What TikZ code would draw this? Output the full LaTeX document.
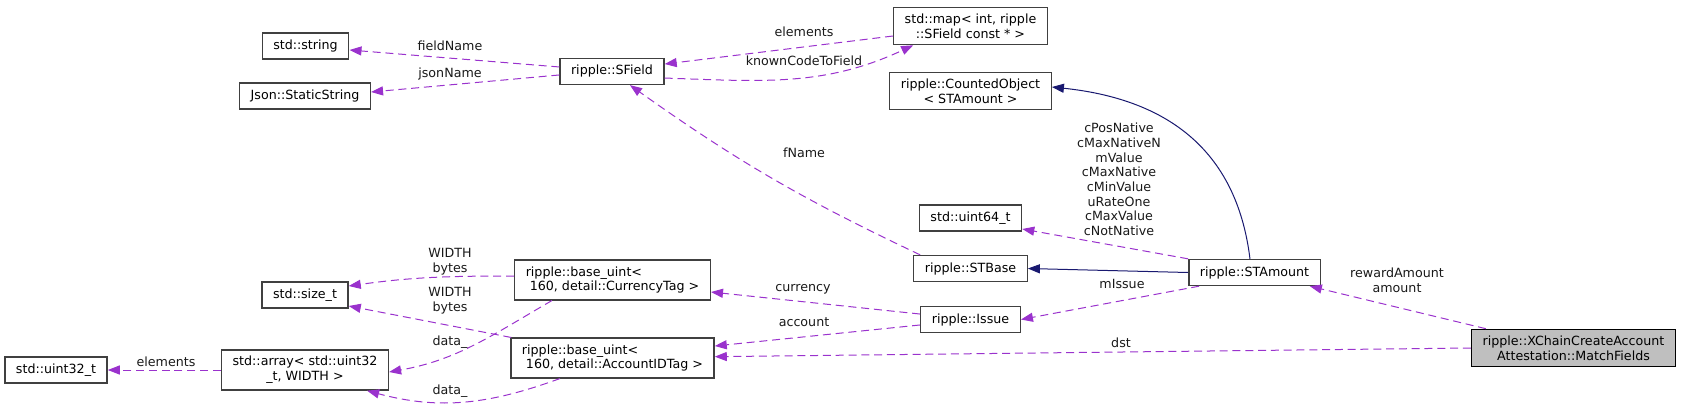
\documentclass[tikz,border=0pt]{standalone}
\usepackage{fontspec}
\setmainfont{DejaVu Sans}
\usetikzlibrary{arrows.meta}
\definecolor{dgpurple}{HTML}{9A32CD}
\definecolor{dgnavy}{HTML}{191970}
\definecolor{dgbord}{HTML}{404040}
\definecolor{dgfill}{HTML}{BFBFBF}
\newcommand{\dgfont}{\fontsize{9.5}{11}\selectfont}
\tikzset{
  cls/.style={draw=dgbord, fill=white, line width=1pt, font=\dgfont, inner xsep=8.3pt,
    inner ysep=4.8pt, minimum height=19.5pt, align=center},
  mcls/.style={cls, draw=black, fill=dgfill},
  lbl/.style={font=\dgfont, inner sep=0pt, align=center, text=black!90},
  dep/.style={-{Triangle[length=9pt,width=6.8pt]}, dgpurple, line width=0.75pt,
    dash pattern=on 6pt off 3.6pt},
  inh/.style={-{Triangle[length=9pt,width=6.8pt]}, dgnavy, line width=0.75pt},
}
\begin{document}
\begin{tikzpicture}[x=0.75pt, y=-0.75pt]
  \useasboundingbox (0,0) rectangle (1683,408);
  % classes
  \node[cls] (str) at (305.5,46) {std::string};
  \node[cls] (json) at (305,96) {Json::StaticString};
  \node[cls] (sfield) at (612,71.5) {ripple::SField};
  \node[cls] (smap) at (970.5,26) {std::map< int, ripple\\::SField const * >};
  \node[cls] (cobj) at (970.5,91) {ripple::CountedObject\\< STAmount >};
  \node[cls] (u64) at (970.5,218) {std::uint64\_t};
  \node[cls] (stbase) at (970.5,268.5) {ripple::STBase};
  \node[cls] (issue) at (970.5,319.5) {ripple::Issue};
  \node[cls] (stamount) at (1254.5,272.5) {ripple::STAmount};
  \node[mcls] (match) at (1573.5,348) {ripple::XChainCreateAccount\\Attestation::MatchFields};
  \node[cls, align=left] (cur) at (612.5,280) {ripple::base\_uint<\\\hspace*{3pt}160, detail::CurrencyTag >};
  \node[cls, align=left] (acct) at (612.5,358) {ripple::base\_uint<\\\hspace*{3pt}160, detail::AccountIDTag >};
  \node[cls] (sizet) at (305,295) {std::size\_t};
  \node[cls] (arr) at (305,370) {std::array< std::uint32\\\_t, WIDTH >};
  \node[cls] (u32) at (56,370) {std::uint32\_t};

  % edges
  \draw[dep] ([yshift=3.4pt]sfield.west) -- ([yshift=-3pt]str.east);
  \draw[dep] ([yshift=-2.6pt]sfield.west) -- ([yshift=3pt]json.east);
  \draw[dep] ([yshift=-7.5pt]smap.west) -- ([yshift=5.6pt]sfield.east);
  \draw[dep] ([yshift=-4.9pt]sfield.east) to[out=-2, in=205] ([xshift=-43pt]smap.south);
  \draw[dep] ([xshift=5.25pt]stbase.north west) to[bend left=5] ([xshift=13.5pt]sfield.south);
  \draw[inh] ([xshift=-3.4pt]stamount.north) to[out=97, in=-6, looseness=1.1] ([yshift=3pt]cobj.east);
  \draw[inh] (stamount.west) -- (stbase.east);
  \draw[dep] (stamount.north west) -- ([yshift=2pt]u64.south east);
  \draw[dep] ([xshift=8.25pt]stamount.south west) -- (issue.east);
  \draw[dep] ([yshift=4.1pt]issue.west) -- ([yshift=-9pt]cur.east);
  \draw[dep] ([yshift=-4.1pt]issue.west) -- ([yshift=9pt]acct.east);
  \draw[dep] (match.west) -- ([yshift=1pt]acct.east);
  \draw[dep] ([xshift=11.25pt]match.north west) -- ([xshift=-8.25pt]stamount.south east);
  \draw[dep] ([yshift=3pt]cur.west) to[out=180, in=8] ([yshift=6.75pt]sizet.east);
  \draw[dep] ([xshift=0.75pt]acct.north west) -- ([yshift=-8.25pt]sizet.east);
  \draw[dep] ([xshift=-45.4pt]cur.south) to[out=210, in=10] ([yshift=-1.5pt]arr.east);
  \draw[dep] ([xshift=-39.4pt]acct.south) to[out=200, in=-15] ([xshift=-16.5pt]arr.south east);
  \draw[dep] (arr.west) -- (u32.east);

  % edge labels
  \node[lbl] (lfield) at (450,46) {fieldName};
  \node[lbl] (ljson) at (450,74) {jsonName};
  \node[lbl] (lelem) at (804,32) {elements};
  \node[lbl] (lknown) at (804,61) {knownCodeToField};
  \node[lbl] (lfname) at (804,153) {fName};
  \node[lbl] (lconst) at (1119,179.5) {cPosNative\\cMaxNativeN\\mValue\\cMaxNative\\cMinValue\\uRateOne\\cMaxValue\\cNotNative};
  \node[lbl] (lissue) at (1122,284) {mIssue};
  \node[lbl] (lcur) at (803,289) {currency};
  \node[lbl] (lacct) at (804,322) {account};
  \node[lbl] (ldst) at (1121,343) {dst};
  \node[lbl] (lreward) at (1397,280) {rewardAmount\\amount};
  \node[lbl] (lwidth) at (450,261.5) {WIDTH\\bytes};
  \node[lbl] (lwidthb) at (450,301) {WIDTH\\bytes};
  \node[lbl] (ldata) at (450,342) {data\_};
  \node[lbl] (ldatab) at (450,391) {data\_};
  \node[lbl] (lelemb) at (166,362) {elements};
\end{tikzpicture}
\end{document}
